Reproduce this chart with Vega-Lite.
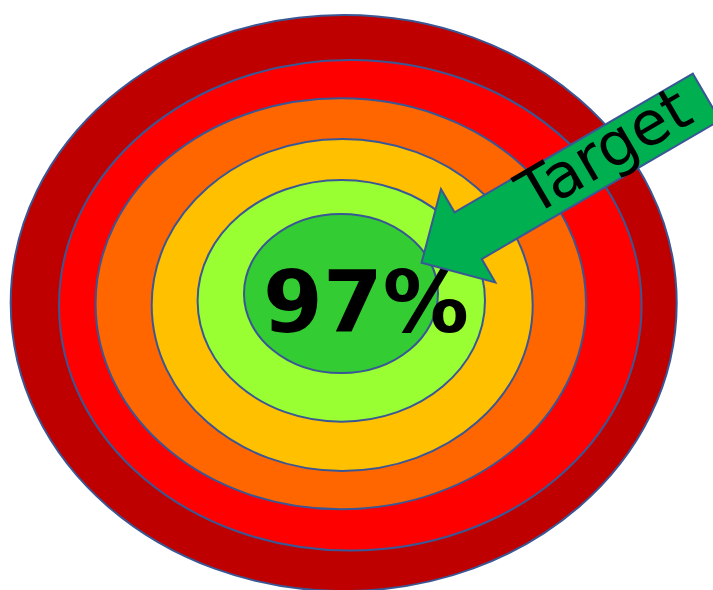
{
  "$schema": "https://vega.github.io/schema/vega-lite/v6.json",
  "width": 713,
  "height": 590,
  "autosize": {"type": "none"},
  "padding": 0,
  "background": "white",
  "config": {"view": {"stroke": null}},
  "datasets": {
    "rings": [
      {"ring": "Ring 1", "cx": 343.7, "cy": 303.0},
      {"ring": "Ring 2", "cx": 350.3, "cy": 305.3},
      {"ring": "Ring 3", "cx": 340.8, "cy": 303.8},
      {"ring": "Ring 4", "cx": 342.2, "cy": 305.0},
      {"ring": "Ring 5", "cx": 341.3, "cy": 300.8},
      {"ring": "Ring 6", "cx": 341.0, "cy": 293.5}
    ],
    "score": [{"label": "97%", "x": 366, "y": 332}],
    "arrow": [{"label": "Target", "x": 564.0, "y": 179.9, "tx": 614.4, "ty": 168.7}]
  },
  "layer": [
    {
      "data": {"name": "rings"},
      "mark": {"type": "point", "filled": true, "opacity": 1, "stroke": "#3A5795", "strokeWidth": 2},
      "encoding": {
        "x": {"field": "cx", "type": "quantitative", "scale": {"domain": [0, 713], "nice": false, "zero": false}, "axis": null},
        "y": {"field": "cy", "type": "quantitative", "scale": {"domain": [0, 590], "nice": false, "zero": false, "reverse": true}, "axis": null},
        "fill": {"field": "ring", "type": "nominal", "legend": null,
          "scale": {"domain": ["Ring 1", "Ring 2", "Ring 3", "Ring 4", "Ring 5", "Ring 6"],
                    "range": ["#BE0000", "#FF0000", "#FF6600", "#FFC000", "#99FF33", "#33CC33"]}},
        "shape": {"field": "ring", "type": "nominal", "legend": null,
          "scale": {"domain": ["Ring 1", "Ring 2", "Ring 3", "Ring 4", "Ring 5", "Ring 6"],
                    "range": [
                      "M -1 0 A 1 0.865 0 1 1 1 0 A 1 0.865 0 1 1 -1 0 Z",
                      "M -1 0 A 1 0.842 0 1 1 1 0 A 1 0.842 0 1 1 -1 0 Z",
                      "M -1 0 A 1 0.838 0 1 1 1 0 A 1 0.838 0 1 1 -1 0 Z",
                      "M -1 0 A 1 0.871 0 1 1 1 0 A 1 0.871 0 1 1 -1 0 Z",
                      "M -1 0 A 1 0.841 0 1 1 1 0 A 1 0.841 0 1 1 -1 0 Z",
                      "M -1 0 A 1 0.82 0 1 1 1 0 A 1 0.82 0 1 1 -1 0 Z"
                    ]}},
        "size": {"field": "ring", "type": "ordinal", "legend": null,
          "scale": {"type": "ordinal", "domain": ["Ring 1", "Ring 2", "Ring 3", "Ring 4", "Ring 5", "Ring 6"],
                    "range": [443556, 339422, 240492, 145161, 82598, 37636]}}
      }
    },
    {
      "data": {"name": "score"},
      "mark": {"type": "text", "font": "DejaVu Sans", "fontWeight": "bold", "fontSize": 86, "align": "center", "baseline": "alphabetic", "color": "#000000"},
      "encoding": {
        "x": {"field": "x", "type": "quantitative"},
        "y": {"field": "y", "type": "quantitative"},
        "text": {"field": "label", "type": "nominal"}
      }
    },
    {
      "data": {"name": "arrow"},
      "mark": {"type": "point", "filled": true, "opacity": 1, "fill": "#00B050", "stroke": "#3A5795", "strokeWidth": 2,
               "shape": "M -1 -0.164 L 0.673 -0.164 L 0.673 -0.328 L 1 0 L 0.673 0.328 L 0.673 0.164 L -1 0.164 Z",
               "size": 108636, "angle": 149.8},
      "encoding": {
        "x": {"field": "x", "type": "quantitative"},
        "y": {"field": "y", "type": "quantitative"}
      }
    },
    {
      "data": {"name": "arrow"},
      "mark": {"type": "text", "font": "DejaVu Sans", "fontSize": 61, "align": "center", "baseline": "alphabetic", "angle": 329.6, "color": "#000000"},
      "encoding": {
        "x": {"field": "tx", "type": "quantitative"},
        "y": {"field": "ty", "type": "quantitative"},
        "text": {"field": "label", "type": "nominal"}
      }
    }
  ]
}
